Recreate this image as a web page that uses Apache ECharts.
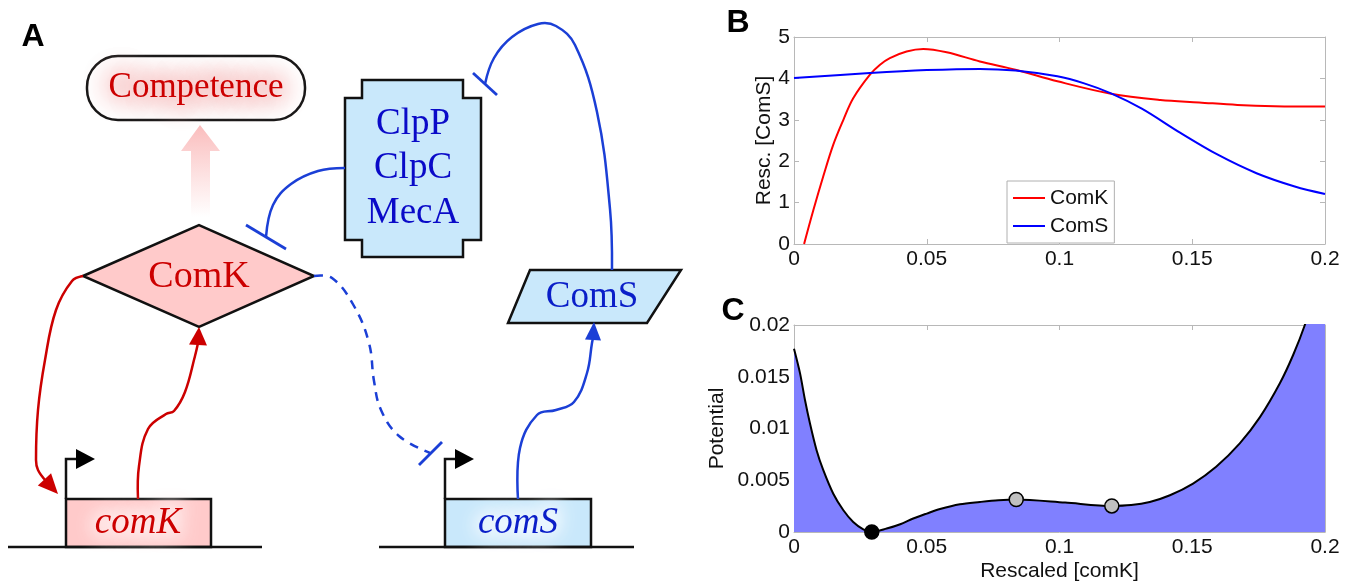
<!DOCTYPE html>
<html>
<head>
<meta charset="utf-8">
<style>
  html, body { margin: 0; padding: 0; background: #fff; }
  #main { width: 1356px; height: 583px; }
</style>
<script src="https://cdn.jsdelivr.net/npm/echarts/dist/echarts.min.js"></script>
</head>
<body>
<div id="main"></div>
<script>
// ---- data ----
const xTicks = [0, 0.05, 0.1, 0.15, 0.2];
const bTicks = [0, 1, 2, 3, 4, 5];
const cTicks = [0, 0.005, 0.01, 0.015, 0.02];

// panel B: nullclines
const comKX = [0.0038, 0.0073, 0.011, 0.0148, 0.0186, 0.0223, 0.0286, 0.0324, 0.0361, 0.0424, 0.0487, 0.0575, 0.07, 0.0834, 0.0992, 0.1194, 0.138, 0.1526, 0.167, 0.181, 0.2];
const comKY = [0, 0.82, 1.63, 2.4, 3.0, 3.52, 4.09, 4.33, 4.49, 4.65, 4.71, 4.63, 4.41, 4.21, 3.93, 3.63, 3.48, 3.42, 3.36, 3.33, 3.32];
const comSX = [0, 0.0286, 0.05, 0.07, 0.0834, 0.0992, 0.1093, 0.1194, 0.131, 0.1454, 0.1598, 0.1742, 0.1886, 0.2];
const comSY = [4.01, 4.13, 4.2, 4.23, 4.19, 4.05, 3.88, 3.64, 3.27, 2.69, 2.15, 1.71, 1.39, 1.21];

// panel C: potential
const potX = [0, 0.0023, 0.0041, 0.006, 0.0085, 0.011, 0.0148, 0.0186, 0.0223, 0.0261, 0.0293, 0.0349, 0.04, 0.0449, 0.05, 0.055, 0.0625, 0.07, 0.077, 0.0837, 0.1021, 0.1197, 0.127, 0.134, 0.1416, 0.1503, 0.159, 0.1679, 0.1755, 0.183, 0.188, 0.1924, 0.2];
const potY = [0.0177, 0.0153, 0.0128, 0.0105, 0.0079, 0.006, 0.0037, 0.0021, 0.00097, 0.00026, 0, 0.00033, 0.00075, 0.0013, 0.00178, 0.00222, 0.00268, 0.0029, 0.00307, 0.00314, 0.00284, 0.00252, 0.0026, 0.0029, 0.00355, 0.00468, 0.0063, 0.00856, 0.0111, 0.01437, 0.0171, 0.02, 0.026];
const dotX = [0.0293, 0.0837, 0.1197];
const dotY = [0, 0.00314, 0.00252];
const dotColor = ['#000000', '#c0c0c0', '#c0c0c0'];

const boxColor = '#b8b8b8';
const sans = 'Liberation Sans';
const serif = '"Liberation Serif", "DejaVu Serif", serif';
const red = '#cc0000';
const blue = '#1b3fd6';
const ink = '#111';

function zip(xs, ys) {
  return xs.map((x, i) => [x, ys[i]]);
}

function xAxisOf(grid, pos, name) {
  return {
    type: 'value', gridIndex: grid, position: pos,
    min: xTicks[0], max: xTicks[xTicks.length - 1], interval: xTicks[1] - xTicks[0],
    axisLine: { show: true, onZero: false, lineStyle: { color: boxColor, width: 1 } },
    axisTick: { show: true, inside: true, length: 5, lineStyle: { color: boxColor } },
    axisLabel: { show: pos === 'bottom', color: ink, fontSize: 21, fontFamily: sans, margin: 5 },
    splitLine: { show: false },
    name: name || '', nameLocation: 'middle', nameGap: 29,
    nameTextStyle: { color: ink, fontSize: 21, fontFamily: sans }
  };
}

function yAxisOf(grid, pos, ticks, name, gap) {
  return {
    type: 'value', gridIndex: grid, position: pos,
    min: ticks[0], max: ticks[ticks.length - 1], interval: ticks[1] - ticks[0],
    axisLine: { show: true, onZero: false, lineStyle: { color: boxColor, width: 1 } },
    axisTick: { show: true, inside: true, length: 5, lineStyle: { color: boxColor } },
    axisLabel: { show: pos === 'left', color: ink, fontSize: 21, fontFamily: sans, margin: 4 },
    splitLine: { show: false },
    name: name || '', nameLocation: 'middle', nameGap: gap || 0, nameRotate: 90,
    nameTextStyle: { color: ink, fontSize: 21, fontFamily: sans }
  };
}

// ---- panel A: the network diagram ----
function head(tip, from, len, half, color) {
  let dx = tip[0] - from[0], dy = tip[1] - from[1];
  let d = Math.sqrt(dx * dx + dy * dy);
  let ux = dx / d, uy = dy / d;
  let bx = tip[0] - ux * len, by = tip[1] - uy * len;
  return {
    type: 'polygon',
    shape: { points: [tip, [bx - uy * half, by + ux * half], [bx + uy * half, by - ux * half]] },
    style: { fill: color }
  };
}

function curve(points, color, dash) {
  return {
    type: 'polyline',
    shape: { points: points, smooth: 0.4 },
    style: { stroke: color, lineWidth: 2.5, fill: 'none', lineDash: dash || null }
  };
}

function bar(x1, y1, x2, y2, color) {
  return { type: 'line', shape: { x1: x1, y1: y1, x2: x2, y2: y2 }, style: { stroke: color, lineWidth: 2.8 } };
}

function label(text, x, y, size, color, italic, bold, family) {
  return {
    type: 'text', x: x, y: y, z: 10,
    style: {
      text: text, fill: color,
      font: (italic ? 'italic ' : '') + (bold ? 'bold ' : '') + size + 'px ' + (family || serif),
      align: 'center', verticalAlign: 'middle', textAlign: 'center', textVerticalAlign: 'middle'
    }
  };
}

// soft glow behind a word: only the shadow lands on screen
function glow(text, x, y, size, color, italic, blur) {
  return {
    type: 'text', x: x - 3000, y: y, z: 9,
    style: {
      text: text, fill: color, stroke: color, lineWidth: 8,
      font: (italic ? 'italic ' : '') + size + 'px ' + serif,
      align: 'center', verticalAlign: 'middle', textAlign: 'center', textVerticalAlign: 'middle',
      textShadowColor: color, textShadowBlur: blur || 18, textShadowOffsetX: 3000
    }
  };
}

const black = { stroke: '#111', lineWidth: 2.5 };
const lightBlue = '#c9e8fb';
const pink = '#ffcaca';

let diagram = [
  label('A', 33, 37, 32, '#000', false, true, sans),
  label('B', 738, 23, 32, '#000', false, true, sans),
  label('C', 733, 311, 32, '#000', false, true, sans),

  // competence
  { type: 'rect', shape: { x: 87, y: 56, width: 218, height: 64, r: 31 }, style: Object.assign({ fill: '#fff' }, black) },
  glow('Competence', 196, 88, 35, '#f9c2c2', false, 24),
  label('Competence', 196, 88, 35, red),
  {
    type: 'polygon',
    shape: { points: [[191, 217], [210, 217], [210, 151], [220, 151], [200, 125], [181, 151], [191, 151]] },
    style: {
      fill: new echarts.graphic.LinearGradient(0, 1, 0, 0, [
        { offset: 0, color: 'rgba(250,190,190,0)' },
        { offset: 1, color: 'rgba(250,185,185,0.95)' }
      ])
    }
  },

  // ComK protein
  { type: 'polygon', shape: { points: [[83, 276], [199, 225], [314, 276], [199, 327]] }, style: Object.assign({ fill: pink }, black) },
  label('ComK', 199, 277, 38, red),

  // ClpP / ClpC / MecA complex
  {
    type: 'polygon',
    shape: { points: [[362, 80], [463, 80], [463, 98], [481, 98], [481, 240], [463, 240], [463, 257], [362, 257], [362, 240], [345, 240], [345, 98], [362, 98]] },
    style: Object.assign({ fill: lightBlue }, black)
  },
  label('ClpP', 413, 124, 37, '#0a0ac8'),
  label('ClpC', 413, 168, 37, '#0a0ac8'),
  label('MecA', 413, 213, 37, '#0a0ac8'),

  // ComS protein
  { type: 'polygon', shape: { points: [[530, 270], [681, 270], [647, 323], [508, 323]] }, style: Object.assign({ fill: lightBlue }, black) },
  label('ComS', 592, 297, 37, '#0a1ec8'),

  // genes on the DNA
  { type: 'rect', shape: { x: 66, y: 499, width: 145, height: 48 }, style: Object.assign({ fill: pink }, black) },
  glow('comK', 138, 523, 37, '#ffeeee', true),
  label('comK', 138, 523, 37, red, true),
  { type: 'rect', shape: { x: 445, y: 499, width: 146, height: 48 }, style: Object.assign({ fill: lightBlue }, black) },
  glow('comS', 518, 523, 37, '#f2faff', true),
  label('comS', 518, 523, 37, '#0a1ec8', true),
  { type: 'line', shape: { x1: 8, y1: 547, x2: 262, y2: 547 }, style: black },
  { type: 'line', shape: { x1: 379, y1: 547, x2: 634, y2: 547 }, style: black },

  // promoters
  { type: 'polyline', shape: { points: [[66, 499], [66, 459], [78, 459]] }, style: { stroke: '#111', lineWidth: 2.5, fill: 'none' } },
  { type: 'polygon', shape: { points: [[76, 449], [95, 459], [76, 469]] }, style: { fill: '#000' } },
  { type: 'polyline', shape: { points: [[445, 499], [445, 459], [457, 459]] }, style: { stroke: '#111', lineWidth: 2.5, fill: 'none' } },
  { type: 'polygon', shape: { points: [[455, 449], [474, 459], [455, 469]] }, style: { fill: '#000' } },

  // ComK activates comK
  curve([[83, 276], [72, 281], [56, 310], [45, 360], [38, 410], [36, 460], [38, 470], [46, 481]], red),
  head([58, 494], [46, 481], 20, 9, red),
  // comK makes ComK
  curve([[138, 499], [139, 466], [148, 429], [166, 414], [174, 411], [185, 392], [195, 356], [198, 343]], red),
  head([199, 327], [198, 345], 18, 9, red),

  // ComK represses comS
  curve([[314, 276], [332, 278], [354, 306], [369, 343], [374, 381], [381, 410], [399, 436], [430, 453]], blue, [9, 7]),
  bar(419, 465, 442, 442, blue),
  // comS makes ComS
  curve([[518, 499], [520, 448], [537, 415], [556, 410], [574, 402], [587, 373], [592, 343], [593, 338]], blue),
  head([594, 322], [593, 340], 18, 8, blue),
  // MecA complex degrades ComK
  curve([[345, 168], [318, 171], [291, 184], [273, 205], [266, 237]], blue),
  bar(246, 225, 286, 249, blue),
  // ComS inhibits the complex
  curve([[612, 270], [610, 209], [597, 112], [575, 45], [556, 26], [538, 24], [512, 37], [494, 58], [485, 84]], blue),
  bar(473, 73, 497, 95, blue)
];

let option = {
  animation: false,
  backgroundColor: '#fff',
  graphic: { elements: diagram },
  grid: [
    { left: 794, top: 37, width: 531, height: 207 },
    { left: 794, top: 325, width: 531, height: 207 }
  ],
  legend: {
    data: [{ name: 'ComK', icon: 'rect' }, { name: 'ComS', icon: 'rect' }],
    orient: 'vertical',
    left: 1007, top: 181,
    padding: [6, 6, 6, 6],
    itemGap: 6, itemWidth: 32, itemHeight: 2,
    borderColor: '#b0b0b0', borderWidth: 1, backgroundColor: '#fff',
    textStyle: { color: ink, fontSize: 21, fontFamily: sans, lineHeight: 22 }
  },
  xAxis: [
    xAxisOf(0, 'bottom'),
    xAxisOf(0, 'top'),
    xAxisOf(1, 'bottom', 'Rescaled [comK]'),
    xAxisOf(1, 'top')
  ],
  yAxis: [
    yAxisOf(0, 'left', bTicks, 'Resc. [ComS]', 19),
    yAxisOf(0, 'right', bTicks),
    yAxisOf(1, 'left', cTicks, 'Potential', 66),
    yAxisOf(1, 'right', cTicks)
  ],
  series: [
    {
      name: 'ComK', type: 'line', xAxisIndex: 0, yAxisIndex: 0,
      data: zip(comKX, comKY), smooth: 0.35, symbol: 'none',
      lineStyle: { color: '#ff0000', width: 2 }, itemStyle: { color: '#ff0000' }
    },
    {
      name: 'ComS', type: 'line', xAxisIndex: 0, yAxisIndex: 0,
      data: zip(comSX, comSY), smooth: 0.35, symbol: 'none',
      lineStyle: { color: '#0000ff', width: 2 }, itemStyle: { color: '#0000ff' }
    },
    {
      name: 'Potential', type: 'line', xAxisIndex: 2, yAxisIndex: 2,
      data: zip(potX, potY), smooth: 0.3, symbol: 'none',
      lineStyle: { color: '#000', width: 2 },
      areaStyle: { color: '#8080ff', opacity: 1 }
    },
    {
      name: 'fixed points', type: 'scatter', xAxisIndex: 2, yAxisIndex: 2,
      symbolSize: 14, clip: false, z: 5,
      data: dotX.map((x, i) => ({ value: [x, dotY[i]], itemStyle: { color: dotColor[i], borderColor: '#000', borderWidth: 1.5, opacity: 1 } }))
    }
  ]
};

let myChart = echarts.init(document.getElementById('main'));
myChart.setOption(option);

window.addEventListener('resize', function () {
  myChart.resize();
}, false);
</script>
</body>
</html>
